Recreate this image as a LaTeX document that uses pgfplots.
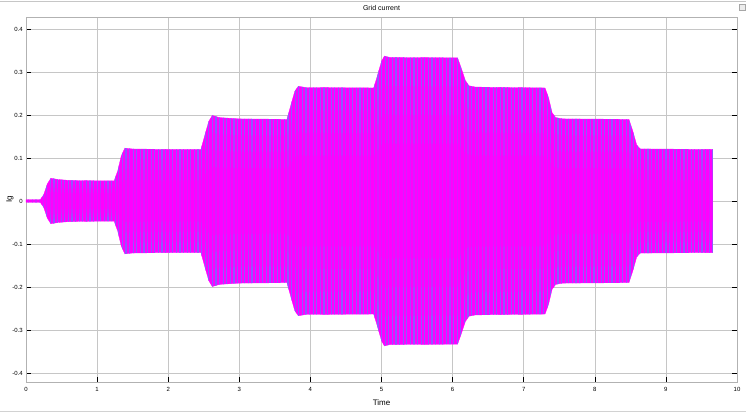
\documentclass[border=0pt]{standalone}
\usepackage{fontspec}
\setmainfont{Liberation Sans}
\usepackage{pgfplots}
\pgfplotsset{compat=1.18}
\usepackage{pgfplotstable}
\usetikzlibrary{patterns.meta}
\definecolor{sigmag}{RGB}{255,0,255}
\definecolor{stripe}{RGB}{140,90,255}

\pgfplotstableread{
x up
0.00 0.003
0.20 0.003
0.25 0.015
0.30 0.040
0.35 0.053
0.45 0.050
0.60 0.048
1.00 0.047
1.24 0.047
1.29 0.070
1.34 0.105
1.39 0.123
1.50 0.121
2.00 0.120
2.46 0.120
2.51 0.150
2.57 0.185
2.62 0.199
2.72 0.194
3.00 0.191
3.67 0.190
3.72 0.220
3.78 0.255
3.83 0.267
3.93 0.264
4.89 0.263
4.94 0.290
5.00 0.325
5.04 0.337
5.12 0.334
6.07 0.333
6.12 0.310
6.18 0.280
6.23 0.268
6.32 0.265
7.30 0.263
7.35 0.240
7.40 0.205
7.45 0.194
7.55 0.191
8.48 0.190
8.53 0.165
8.59 0.130
8.64 0.121
8.75 0.121
9.66 0.120
}\envtable

\begin{document}
\begin{tikzpicture}
\path[use as bounding box] (-26pt,-32pt) rectangle (720pt,382pt);
\draw[gray!45] (-26pt,381pt) -- (720pt,381pt);
\draw[gray!35] (-26pt,-29.5pt) -- (720pt,-29.5pt);
\draw[gray!70,fill=gray!15] (713pt,372pt) rectangle (719pt,378pt);
\begin{axis}[
  at={(0,0)}, anchor=south west,
  scale only axis, width=711pt, height=365pt,
  xmin=0, xmax=10, ymin=-0.421, ymax=0.428,
  xtick={0,1,2,3,4,5,6,7,8,9,10},
  xticklabels={0,1,2,3,4,5,6,7,8,9,10},
  ytick={-0.4,-0.3,-0.2,-0.1,0,0.1,0.2,0.3,0.4},
  yticklabels={-0.4,-0.3,-0.2,-0.1,0,0.1,0.2,0.3,0.4},
  tick align=inside, major tick length=5pt,
  tick style={black, line width=0.6pt},
  xtick pos=bottom, ytick pos=both,
  grid=major,
  major grid style={gray!45, line width=0.5pt},
  axis line style={gray!60, line width=0.5pt},
  ticklabel style={font=\fontsize{6}{7}\selectfont},
  yticklabel style={inner sep=1pt, xshift=-2pt},
  xticklabel style={inner sep=1pt, yshift=-4pt},
  xlabel={Time},
  xlabel style={at={(axis description cs:0.5,-0.0575)}, anchor=center, font=\fontsize{8}{9}\selectfont},
  ylabel={Ig},
  ylabel style={at={(axis description cs:-0.0225,0.5)}, anchor=center, rotate=0, font=\fontsize{8}{9}\selectfont},
  clip=false,
]
% base fill of the oscillation band
\addplot[draw=sigmag, line width=0.3pt, fill=sigmag] table[x=x,y=up] {\envtable} \closedcycle;
\addplot[draw=sigmag, line width=0.3pt, fill=sigmag] table[x=x,y expr=-\thisrow{up}] {\envtable} \closedcycle;
% aliasing stripes
\addplot[draw=none, pattern={Lines[angle=90,distance=3.6pt,line width=1.2pt]}, pattern color=stripe] table[x=x,y=up] {\envtable} \closedcycle;
\addplot[draw=none, pattern={Lines[angle=90,distance=3.6pt,line width=1.2pt]}, pattern color=stripe] table[x=x,y expr=-\thisrow{up}] {\envtable} \closedcycle;
% denser centre of the band, graded
\addplot[draw=none, fill=sigmag, fill opacity=0.25] table[x=x,y expr=0.8*\thisrow{up}] {\envtable} \closedcycle;
\addplot[draw=none, fill=sigmag, fill opacity=0.25] table[x=x,y expr=-0.8*\thisrow{up}] {\envtable} \closedcycle;
\addplot[draw=none, fill=sigmag, fill opacity=0.3] table[x=x,y expr=0.6*\thisrow{up}] {\envtable} \closedcycle;
\addplot[draw=none, fill=sigmag, fill opacity=0.3] table[x=x,y expr=-0.6*\thisrow{up}] {\envtable} \closedcycle;
\addplot[draw=none, fill=sigmag, fill opacity=0.4] table[x=x,y expr=0.4*\thisrow{up}] {\envtable} \closedcycle;
\addplot[draw=none, fill=sigmag, fill opacity=0.4] table[x=x,y expr=-0.4*\thisrow{up}] {\envtable} \closedcycle;
\node[font=\fontsize{7}{8}\selectfont] at (axis description cs:0.5,1.0247) {Grid current};
\end{axis}
\end{tikzpicture}
\end{document}
